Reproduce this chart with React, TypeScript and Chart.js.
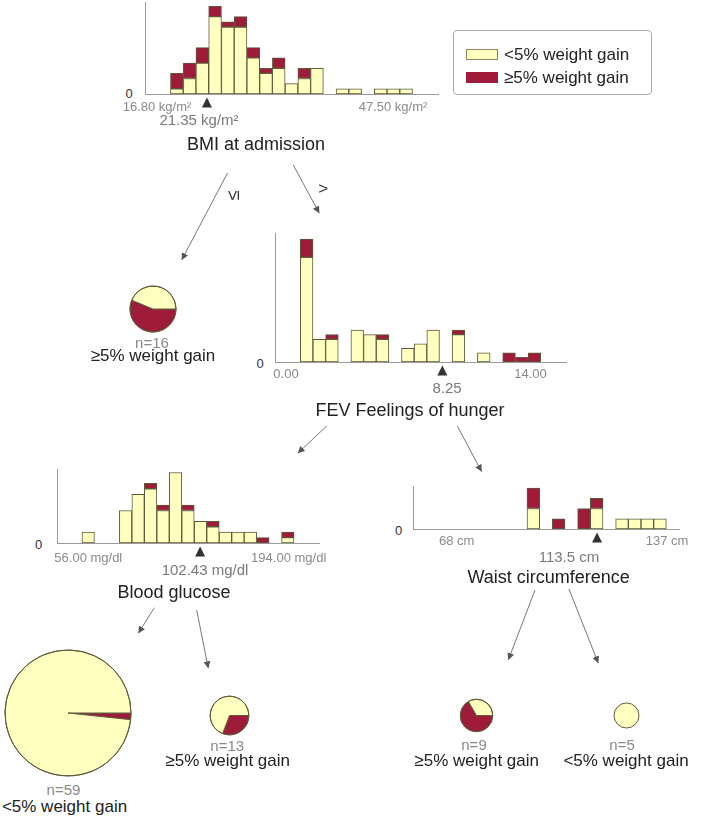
import { useEffect, useRef } from 'react'
import { Chart, registerables } from 'chart.js'

Chart.register(...registerables)

const YELLOW = '#ffffc0'
const RED = '#9e1b3a'
const EDGE = '#5e5a3c'
const AXIS = '#9a9a9a'
const FONT = '"Liberation Sans", Arial, Helvetica, sans-serif'

const CLASSES = ['<5% weight gain', '≥5% weight gain']

// counts per histogram bin, split by class
const bmiBelow = [1, 3, 6, 15, 13, 13, 7, 4, 5, 2, 3, 5, 0, 1, 1, 0, 1, 1, 1]
const bmiAbove = [3, 3, 3, 2, 1, 2, 2, 1, 2, 0, 2, 0, 0, 0, 0, 0, 0, 0, 0]
const bmiSplit = 2.86
const bmiLabels = ['16.80 kg/m²', '47.50 kg/m²', '21.35 kg/m²']

const fevBelow = [23, 5, 5, 0, 7, 6, 5, 0, 3, 4, 7, 0, 6, 0, 2, 0, 0, 0, 0]
const fevAbove = [4, 0, 1, 0, 0, 0, 1, 0, 0, 0, 0, 0, 1, 0, 0, 0, 2, 1, 2]
const fevSplit = 11.23
const fevLabels = ['0.00', '14.00', '8.25']

const glucoseBelow = [2, 0, 0, 6, 9, 10, 6, 13, 6, 4, 3, 2, 2, 2, 0, 0, 1]
const glucoseAbove = [0, 0, 0, 0, 0, 1, 1, 0, 1, 0, 1, 0, 0, 0, 1, 0, 1]
const glucoseSplit = 9.47
const glucoseLabels = ['56.00 mg/dl', '194.00 mg/dl', '102.43 mg/dl']

const waistBelow = [0, 0, 0, 0, 0, 0, 0, 2, 0, 0, 0, 0, 2, 0, 1, 1, 1, 1]
const waistAbove = [0, 0, 0, 0, 0, 0, 0, 2, 0, 1, 0, 2, 1, 0, 0, 0, 0, 0]
const waistSplit = 12.53
const waistLabels = ['68 cm', '137 cm', '113.5 cm']

// leaves: [≥5%, <5%]
const leafLowBmi = [9, 7]
const leafLowGlucose = [1, 58]
const leafHighGlucose = [4, 9]
const leafLowWaist = [6, 3]
const leafHighWaist = [0, 5]

const PAD = 2
const BOTTOM = 18

function splitMarker(split: number) {
  return {
    id: 'splitMarker',
    afterDatasetsDraw(chart: any) {
      const { ctx, scales } = chart
      const x = scales.x.getPixelForValue(split)
      const y = scales.y.getPixelForValue(0) + 3.5
      ctx.save()
      ctx.fillStyle = '#333'
      ctx.beginPath()
      ctx.moveTo(x, y)
      ctx.lineTo(x + 5, y + 10)
      ctx.lineTo(x - 5, y + 10)
      ctx.closePath()
      ctx.fill()
      ctx.restore()
    },
  }
}

interface HistProps {
  below: number[]
  above: number[]
  split: number
  after: number
  x: number
  y: number
  w: number
  h: number
}

function Histogram({ below, above, split, after, x, y, w, h }: HistProps) {
  const ref = useRef<HTMLCanvasElement>(null)

  useEffect(() => {
    if (!ref.current) return
    const totals = below.map((v, i) => v + above[i])
    const bar = {
      borderColor: EDGE,
      borderWidth: 1,
      borderSkipped: false as const,
      barPercentage: 1,
      categoryPercentage: 1,
    }
    const hidden = { display: false, drawTicks: false }
    const chart = new Chart(ref.current, {
      type: 'bar',
      data: {
        datasets: [
          { ...bar, label: CLASSES[0], backgroundColor: YELLOW, data: below.map((v, i) => ({ x: i + 0.5, y: v })) },
          { ...bar, label: CLASSES[1], backgroundColor: RED, data: above.map((v, i) => ({ x: i + 0.5, y: v })) },
        ],
      },
      options: {
        responsive: false,
        animation: false,
        layout: { padding: { left: PAD, right: PAD, top: PAD, bottom: BOTTOM } },
        plugins: { legend: { display: false }, tooltip: { enabled: false } },
        scales: {
          x: {
            type: 'linear',
            stacked: true,
            offset: false,
            min: -2,
            max: below.length + after,
            ticks: { display: false, stepSize: 1, padding: 0 },
            grid: hidden,
            border: { color: AXIS },
          },
          y: {
            stacked: true,
            min: 0,
            max: Math.max(...totals) * 1.05,
            ticks: { display: false, padding: 0 },
            grid: hidden,
            border: { color: AXIS },
          },
        },
      },
      plugins: [splitMarker(split)],
    } as any)
    return () => chart.destroy()
  }, [])

  return (
    <canvas
      ref={ref}
      width={w + 2 * PAD}
      height={h + PAD + BOTTOM}
      style={{ position: 'absolute', left: x - PAD, top: y - PAD }}
    />
  )
}

const outline = {
  id: 'outline',
  afterDatasetsDraw(chart: any) {
    const arc = chart.getDatasetMeta(0).data[0]
    if (!arc) return
    const { ctx } = chart
    ctx.save()
    ctx.strokeStyle = EDGE
    ctx.lineWidth = 1
    ctx.beginPath()
    ctx.arc(arc.x, arc.y, arc.outerRadius, 0, Math.PI * 2)
    ctx.stroke()
    ctx.restore()
  },
}

function LeafPie({ counts, cx, cy, r }: { counts: number[]; cx: number; cy: number; r: number }) {
  const ref = useRef<HTMLCanvasElement>(null)
  const size = Math.ceil(2 * r + 6)

  useEffect(() => {
    if (!ref.current) return
    const chart = new Chart(ref.current, {
      type: 'pie',
      data: {
        labels: [CLASSES[1], CLASSES[0]],
        datasets: [{
          data: counts,
          backgroundColor: [RED, YELLOW],
          borderColor: EDGE,
          borderWidth: counts.filter((v) => v > 0).length > 1 ? 1 : 0,
        }],
      },
      options: {
        responsive: false,
        animation: false,
        rotation: 90,
        radius: r,
        layout: { padding: 0 },
        plugins: { legend: { display: false }, tooltip: { enabled: false } },
      },
      plugins: [outline],
    } as any)
    return () => chart.destroy()
  }, [])

  return (
    <canvas
      ref={ref}
      width={size}
      height={size}
      style={{ position: 'absolute', left: cx - size / 2, top: cy - size / 2 }}
    />
  )
}

function Text({ x, y, size, color = '#222', rotate = 0, children }: any) {
  return (
    <div
      style={{
        position: 'absolute',
        left: x,
        top: y,
        transform: `translate(-50%, -50%) rotate(${rotate}deg)`,
        fontSize: size,
        lineHeight: 1,
        color,
        whiteSpace: 'nowrap',
      }}
    >
      {children}
    </div>
  )
}

const ARROWS = [
  [227.5, 173, 181.7, 260],
  [293.3, 165, 319.3, 213.3],
  [326.7, 426, 297.7, 453.3],
  [457.3, 426, 481.7, 471.7],
  [154.3, 607.7, 138.3, 633.3],
  [196.7, 610, 208.3, 668.3],
  [535, 590, 508.3, 660],
  [569, 589, 598.3, 663.3],
]

export default function App() {
  const tick = '#8a8a8a'
  const split = '#7a7a7a'
  const nCol = '#8a8a8a'

  return (
    <div style={{ position: 'absolute', left: 0, top: 0, width: 709, height: 818, background: '#fff', fontFamily: FONT, overflow: 'hidden' }}>
      {/* BMI */}
      <Histogram below={bmiBelow} above={bmiAbove} split={bmiSplit} after={2} x={145} y={2} w={293} h={92.3} />
      <Text x={129} y={93} size={13} color="#333">0</Text>
      <Text x={157} y={106} size={13} color={tick}>{bmiLabels[0]}</Text>
      <Text x={393} y={106} size={13} color={tick}>{bmiLabels[1]}</Text>
      <Text x={199} y={118.5} size={15} color={split}>{bmiLabels[2]}</Text>
      <Text x={256} y={143.5} size={18}>BMI at admission</Text>

      {/* FEV */}
      <Histogram below={fevBelow} above={fevAbove} split={fevSplit} after={2} x={275} y={233} w={291} h={129.7} />
      <Text x={260} y={363} size={13} color="#333">0</Text>
      <Text x={286} y={373} size={13} color={tick}>{fevLabels[0]}</Text>
      <Text x={530.5} y={373} size={13} color={tick}>{fevLabels[1]}</Text>
      <Text x={447} y={387} size={15} color={split}>{fevLabels[2]}</Text>
      <Text x={410} y={409.5} size={18}>FEV Feelings of hunger</Text>

      {/* Blood glucose */}
      <Histogram below={glucoseBelow} above={glucoseAbove} split={glucoseSplit} after={2} x={56.7} y={469.3} w={262.6} h={74} />
      <Text x={38.5} y={543.5} size={13} color="#333">0</Text>
      <Text x={88.3} y={557} size={13} color={tick}>{glucoseLabels[0]}</Text>
      <Text x={288.7} y={557} size={13} color={tick}>{glucoseLabels[1]}</Text>
      <Text x={205} y={568.5} size={15} color={split}>{glucoseLabels[2]}</Text>
      <Text x={174} y={592} size={18}>Blood glucose</Text>

      {/* Waist */}
      <Histogram below={waistBelow} above={waistAbove} split={waistSplit} after={1} x={413.3} y={486} w={266.7} h={43.3} />
      <Text x={398.5} y={530} size={13} color="#333">0</Text>
      <Text x={456.7} y={540} size={13} color={tick}>{waistLabels[0]}</Text>
      <Text x={667} y={540} size={13} color={tick}>{waistLabels[1]}</Text>
      <Text x={569} y={556} size={15} color={split}>{waistLabels[2]}</Text>
      <Text x={548.7} y={577} size={18}>Waist circumference</Text>

      {/* leaves */}
      <LeafPie counts={leafLowBmi} cx={153.3} cy={308.5} r={23} />
      <Text x={152} y={342} size={15} color={nCol}>n=16</Text>
      <Text x={153} y={355} size={17}>{CLASSES[1]}</Text>

      <LeafPie counts={leafLowGlucose} cx={67.8} cy={713} r={63} />
      <Text x={63.5} y={788.5} size={15} color={nCol}>n=59</Text>
      <Text x={64.5} y={805.5} size={17}>{CLASSES[0]}</Text>

      <LeafPie counts={leafHighGlucose} cx={229.3} cy={715.2} r={19.3} />
      <Text x={227.2} y={745} size={15} color={nCol}>n=13</Text>
      <Text x={227.7} y={759.5} size={17}>{CLASSES[1]}</Text>

      <LeafPie counts={leafLowWaist} cx={476.2} cy={715.5} r={16.2} />
      <Text x={474} y={743.5} size={15} color={nCol}>n=9</Text>
      <Text x={476.7} y={760} size={17}>{CLASSES[1]}</Text>

      <LeafPie counts={leafHighWaist} cx={626.8} cy={715.8} r={12.5} />
      <Text x={622} y={743.5} size={15} color={nCol}>n=5</Text>
      <Text x={626} y={760} size={17}>{CLASSES[0]}</Text>

      {/* edges */}
      <svg width={709} height={818} style={{ position: 'absolute', left: 0, top: 0, pointerEvents: 'none' }}>
        <defs>
          <marker id="head" viewBox="0 0 10 10" refX="10" refY="5" markerWidth="7" markerHeight="7" markerUnits="userSpaceOnUse" orient="auto">
            <path d="M0,0 L10,5 L0,10 z" fill="#555" />
          </marker>
        </defs>
        {ARROWS.map(([x1, y1, x2, y2], i) => (
          <line key={i} x1={x1} y1={y1} x2={x2} y2={y2} stroke="#777" strokeWidth={1} markerEnd="url(#head)" />
        ))}
      </svg>
      <Text x={233.3} y={195} size={18} color="#333" rotate={-90}>≤</Text>
      <Text x={323.3} y={188.3} size={17} color="#333">&gt;</Text>

      {/* legend */}
      <div style={{ position: 'absolute', left: 453, top: 30, width: 199, height: 65, border: '1px solid #aaa', borderRadius: 4, boxSizing: 'border-box' }}>
        {CLASSES.map((c, i) => (
          <div key={c} style={{ position: 'absolute', left: 12, top: 15 + i * 22.5, display: 'flex', alignItems: 'center', fontSize: 17, lineHeight: 1, color: '#222', whiteSpace: 'nowrap' }}>
            <span style={{ display: 'inline-block', width: 32, height: 11, background: i === 0 ? YELLOW : RED, border: `1px solid ${i === 0 ? '#8a8660' : RED}`, boxSizing: 'border-box', marginRight: 6 }} />
            {c}
          </div>
        ))}
      </div>
    </div>
  )
}
